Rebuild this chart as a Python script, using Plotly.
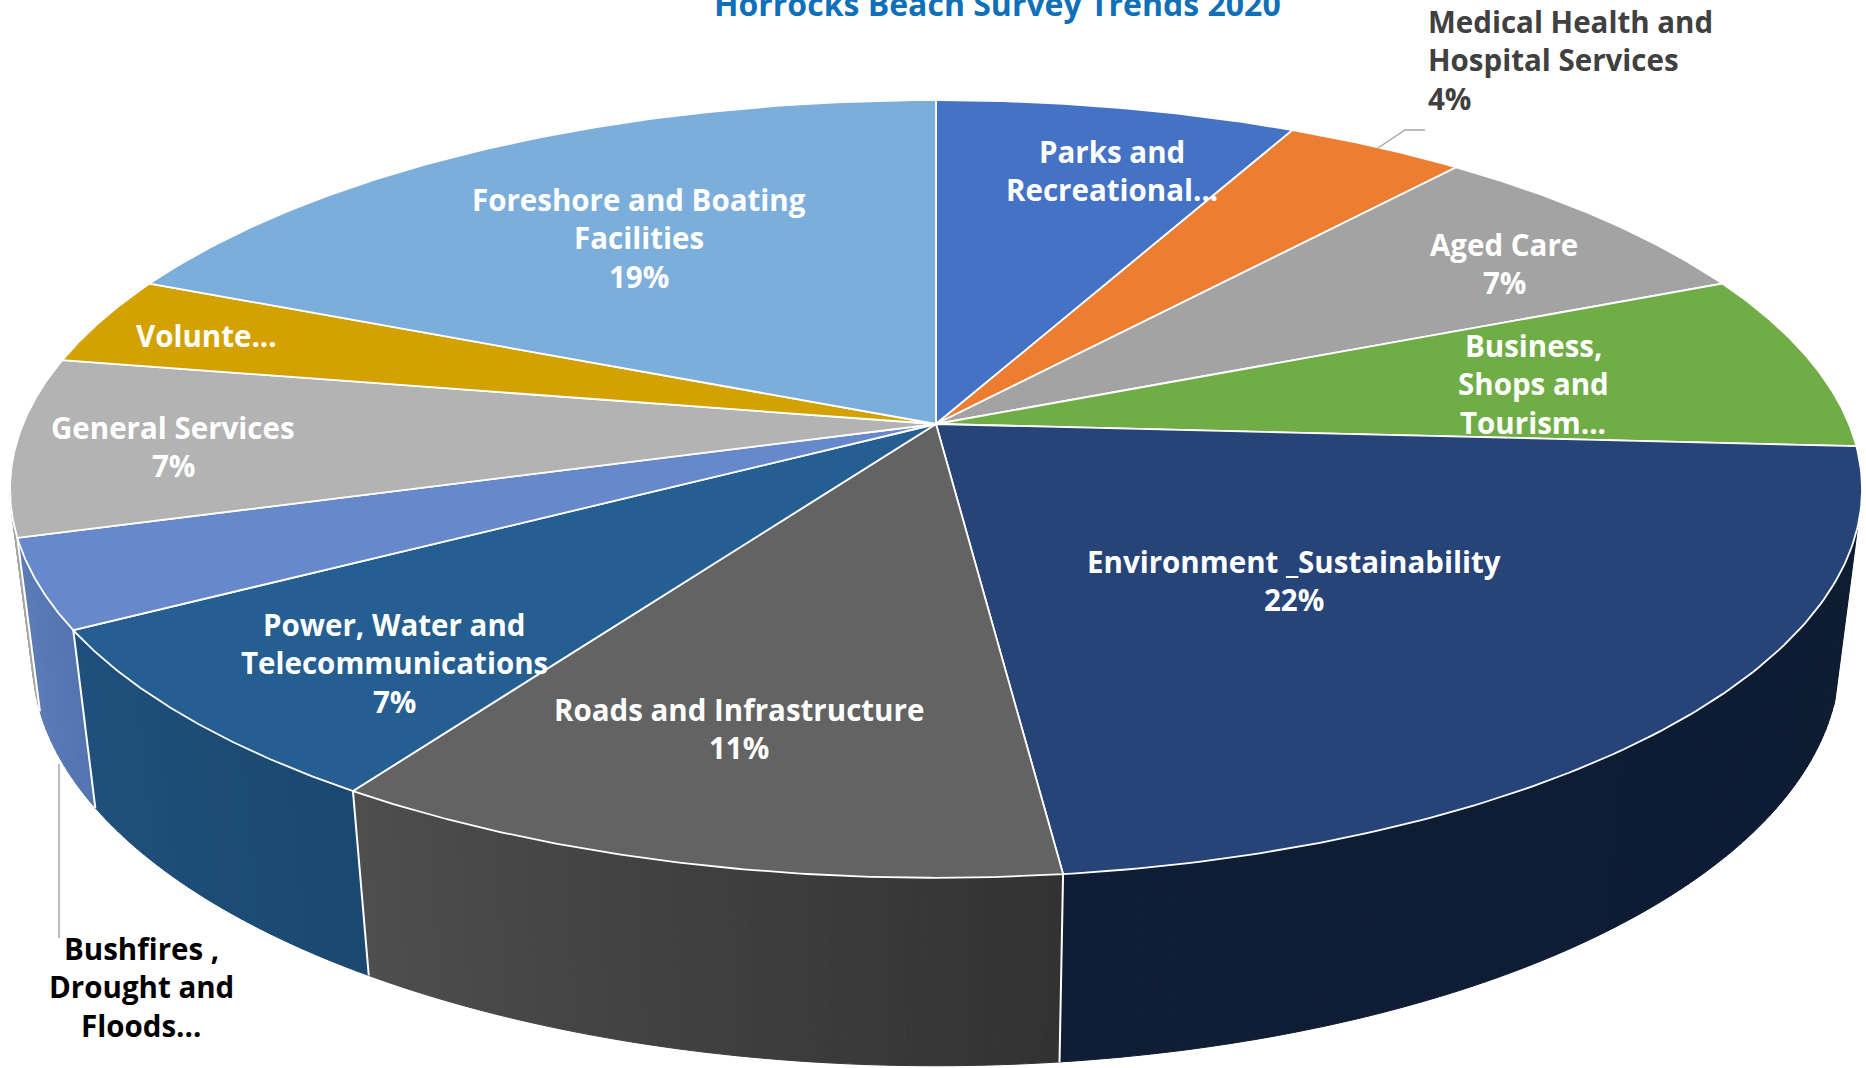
import numpy as np
import plotly.graph_objects as go

# Survey responses per topic, clockwise from twelve o'clock
categories = ["Parks and Recreational", "Medical Health and Hospital Services", "Aged Care",
              "Business, Shops and Tourism", "Environment _Sustainability",
              "Roads and Infrastructure", "Power, Water and Telecommunications",
              "Bushfires , Drought and Floods", "General Services", "Volunteers",
              "Foreshore and Boating Facilities"]
responses = [2, 1, 2, 2, 6, 3, 2, 1, 2, 1, 5]

top_colors = ["#4472C4", "#ED7D31", "#A3A3A3", "#70AD47", "#264478", "#636363",
              "#255E91", "#6888CC", "#B3B3B3", "#D4A200", "#7CAEDC"]
# Side wall shades (left edge, right edge) for the slices facing the viewer
wall_shades = {4: ((15, 29, 53), (14, 28, 50)),
               5: ((78, 78, 78), (50, 50, 50)),
               6: ((31, 80, 124), (27, 72, 112)),
               7: ((92, 124, 184), (84, 116, 176)),
               8: ((165, 165, 165), (165, 165, 165))}

# Pie projection onto the page, in pixels
APEX_X, APEX_Y = 936, 424
SCALE_X, SCALE_Y, TILT = 913, 378, 0.167
WALL_SHRINK, WALL_DROP = 0.024, 172
WALL_FROM, WALL_TO = 105, 260   # part of the rim that faces the viewer, degrees


def project(deg, depth=0.0):
    """Map a rim angle (clockwise from top) to page pixels, optionally on the lower face."""
    t = np.radians(deg)
    cx, cy = np.sin(t), np.cos(t)
    w = 1 + TILT * cy + WALL_SHRINK * depth
    return APEX_X + SCALE_X * cx / w, APEX_Y + (-SCALE_Y * cy + WALL_DROP * depth) / w


edges = np.cumsum([0] + responses) / sum(responses) * 360
fig = go.Figure()


def poly(x, y, fill, line=None, width=0):
    fig.add_trace(go.Scatter(x=x, y=y, mode="lines", fill="toself", fillcolor=fill,
                             line=dict(color=line or fill, width=width or 1),
                             hoverinfo="skip", showlegend=False))


# Side walls, drawn as narrow strips so the shade can change along the rim
for i, (left, right) in wall_shades.items():
    a0, a1 = max(edges[i], WALL_FROM), min(edges[i + 1], WALL_TO)
    steps = np.linspace(a0, a1, max(int((a1 - a0) * 1.2), 4) + 1)
    for j in range(len(steps) - 1):
        f = j / (len(steps) - 2)
        # The rim runs right-to-left as the angle grows, so the left shade comes last
        c = [round(r + (l - r) * f) for l, r in zip(left, right)]
        col = f"rgb({c[0]},{c[1]},{c[2]})"
        seg = np.linspace(steps[j], steps[j + 1], 4)
        tx, ty = project(seg)
        bx, by = project(seg[::-1], 1.0)
        poly(np.r_[tx, bx, tx[0]], np.r_[ty, by, ty[0]], col)

# White seams between neighbouring walls
for i in sorted(wall_shades):
    a = edges[i + 1]
    if a < WALL_TO:
        tx, ty = project(a)
        bx, by = project(a, 1.0)
        fig.add_trace(go.Scatter(x=[tx, bx], y=[ty, by], mode="lines",
                                 line=dict(color="white", width=2),
                                 hoverinfo="skip", showlegend=False))

# Upper faces of the slices
for i, col in enumerate(top_colors):
    arc = np.linspace(edges[i], edges[i + 1], 120)
    ax, ay = project(arc)
    poly(np.r_[APEX_X, ax, APEX_X], np.r_[APEX_Y, ay, APEX_Y], col, "white", 1.8)

# Leader lines for the two labels placed outside the pie
leaders = [((1378, 1405, 1425), (148, 130, 130)), ((59, 59), (764, 938))]
for lx, ly in leaders:
    fig.add_trace(go.Scatter(x=lx, y=ly, mode="lines", line=dict(color="#A6A6A6", width=1.5),
                             hoverinfo="skip", showlegend=False))

# Slice labels: centre x, first-line y, text lines, colour
LINE_STEP = 38.7
LABEL_SIZE = 29.5
slice_labels = [
    (1112, 151, ["Parks and", "Recreational..."], "white"),
    (1504, 244, ["Aged Care", "7%"], "white"),
    (1533, 345, ["Business,", "Shops and", "Tourism..."], "white"),
    (1294, 561, ["Environment _Sustainability", "22%"], "white"),
    (739, 709, ["Roads and Infrastructure", "11%"], "white"),
    (394, 624, ["Power, Water and", "Telecommunications", "7%"], "white"),
    (173, 427, ["General Services", "7%"], "white"),
    (206, 335, ["Volunte..."], "white"),
    (639, 199, ["Foreshore and Boating", "Facilities", "19%"], "white"),
    (141, 948, ["Bushfires ,", "Drought and", "Floods..."], "black"),
]
annotations = []
for cx, y0, lines, color in slice_labels:
    for n, text in enumerate(lines):
        annotations.append(dict(x=cx, y=y0 + n * LINE_STEP, text=text, showarrow=False,
                                xanchor="center", yanchor="middle",
                                font=dict(family="Open Sans", size=LABEL_SIZE, color=color, weight="bold")))
for n, text in enumerate(["Medical Health and", "Hospital Services", "4%"]):
    annotations.append(dict(x=1426, y=21 + n * LINE_STEP, text=text, showarrow=False,
                            xanchor="left", yanchor="middle",
                            font=dict(family="Open Sans", size=LABEL_SIZE, color="#404040", weight="bold")))
annotations.append(dict(x=997, y=3, text="Horrocks Beach Survey Trends 2020", showarrow=False,
                        xanchor="center", yanchor="middle",
                        font=dict(family="Open Sans", size=32, color="#0F70B7", weight="bold")))

fig.update_layout(
    width=1866, height=1068, margin=dict(l=0, r=0, t=0, b=0),
    paper_bgcolor="white", plot_bgcolor="white", annotations=annotations,
    xaxis=dict(range=[0, 1866], visible=False, fixedrange=True),
    yaxis=dict(range=[1068, 0], visible=False, fixedrange=True),
)
fig.write_html("out.html", config=dict(displayModeBar=False))
